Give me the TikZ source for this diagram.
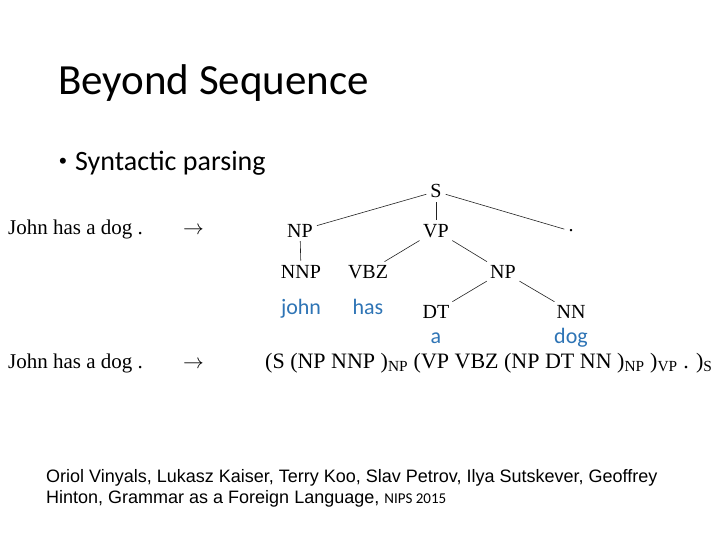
\documentclass[tikz,border=0pt]{standalone}
\usepackage{fontspec}
\setmainfont{Carlito}
\newfontfamily\timesfont{Liberation Serif}
\newfontfamily\arialfont{Liberation Sans}
\usetikzlibrary{positioning}
\definecolor{ink}{HTML}{000000}
\definecolor{wordblue}{HTML}{2E74B5}
\definecolor{branchgray}{HTML}{222222}
\tikzset{
  title/.style={font=\fontsize{43}{50}\selectfont, anchor=base west, inner sep=0pt},
  bullet/.style={font=\fontsize{28}{32}\selectfont, anchor=base west, inner sep=0pt},
  sent/.style={font=\timesfont\fontsize{21}{24}\selectfont, anchor=base west, inner sep=0pt},
  tag/.style={font=\timesfont\fontsize{20}{24}\selectfont, anchor=base, inner sep=2pt},
  word/.style={font=\fontsize{22}{26}\selectfont, text=wordblue, anchor=base, inner sep=0pt},
  branch/.style={draw=branchgray, line width=0.6pt, shorten <=2pt, shorten >=2pt},
  cite/.style={font=\arialfont\fontsize{18}{21}\selectfont, anchor=base west, align=left, inner sep=0pt}
}
\begin{document}
\begin{tikzpicture}[x=1pt,y=-1pt]
\useasboundingbox (0,0) rectangle (720,540);
\node[title] (ttl) at (58,95) {Beyond Sequence};
\node[bullet, font=\arialfont\fontsize{22}{32}\selectfont] (dotpt) at (59,169) {\textbullet};
\node[bullet] (pt) at (75,171) {Syntactic parsing};
% sentence and tree
\node[sent] (in1) at (8,234) {John has a dog .};
\node[sent] (ar1) at (183,234) {$\rightarrow$};
\node[tag] (s) at (436,198) {S};
\node[tag] (np1) at (300,237) {NP};
\node[tag] (vp) at (436,237) {VP};
\node[tag] (dot) at (571,232) {.};
\node[tag] (nnp) at (301,278) {NNP};
\node[tag] (vbz) at (368,278) {VBZ};
\node[tag] (np2) at (503,278) {NP};
\node[tag] (dt) at (436,318) {DT};
\node[tag] (nn) at (571,318) {NN};
\draw[branch] (s)--(np1); \draw[branch] (s)--(vp); \draw[branch] (s)--(dot);
\draw[branch] (np1)--(nnp);
\draw[branch] (vp)--(vbz); \draw[branch] (vp)--(np2);
\draw[branch] (np2)--(dt); \draw[branch] (np2)--(nn);
\node[word] (w1) at (301,314) {john};
\node[word] (w2) at (368,314) {has};
\node[word] (w3) at (436,343) {a};
\node[word] (w4) at (571,343) {dog};
% linearized tree
\node[sent] (in2) at (8,368) {John has a dog .};
\node[sent] (ar2) at (183,368) {$\rightarrow$};
\node[sent, font=\timesfont\fontsize{22}{24}\selectfont] (lin) at (265,368) {(S (NP NNP )\textsubscript{NP} (VP VBZ (NP DT NN )\textsubscript{NP} )\textsubscript{VP} . )\textsubscript{S}};
\node[cite] (ref) at (46,503) {Oriol Vinyals, Lukasz Kaiser, Terry Koo, Slav Petrov, Ilya Sutskever, Geoffrey\\Hinton, Grammar as a Foreign Language, {\rmfamily\fontsize{15}{21}\selectfont NIPS 2015}};
\end{tikzpicture}
\end{document}
